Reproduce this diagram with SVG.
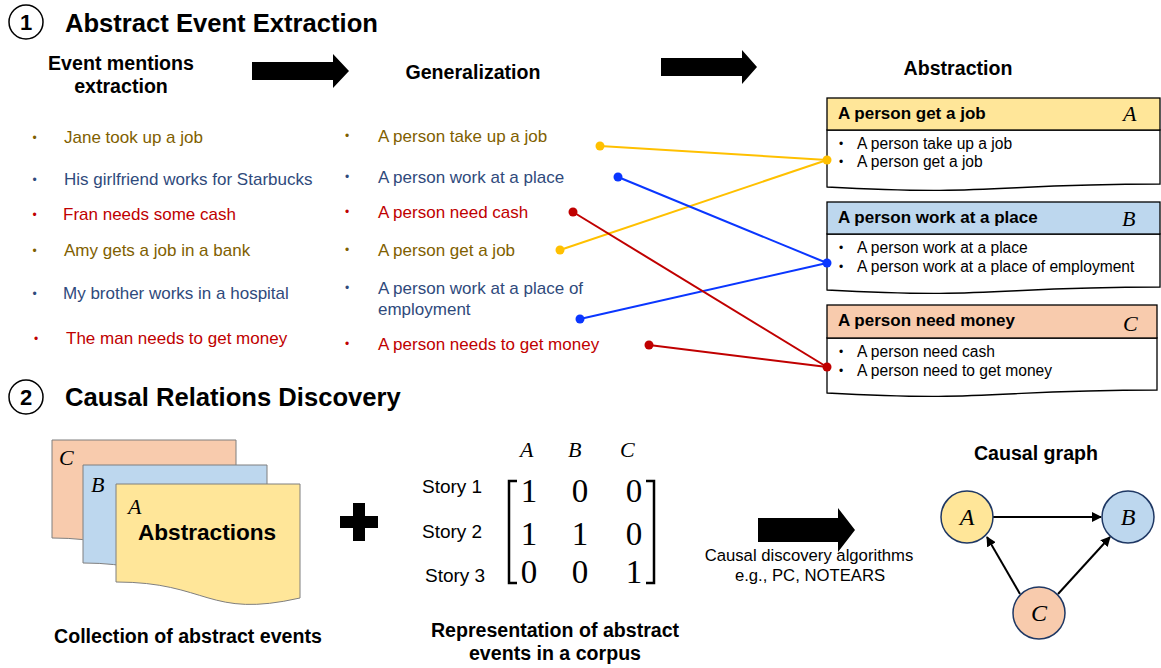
<svg xmlns="http://www.w3.org/2000/svg" width="1161" height="668" viewBox="0 0 1161 668">
<defs>
<style>
.sans{font-family:"Liberation Sans",Arial,Helvetica,sans-serif}
.bold{font-family:"Liberation Sans",Arial,Helvetica,sans-serif;font-weight:bold}
.title{font-family:"Liberation Sans",Arial,sans-serif;font-weight:bold;font-size:25.6px;fill:#000}
.sub{font-family:"Liberation Sans",Arial,sans-serif;font-weight:bold;font-size:19.6px;fill:#000}
.math{font-family:"Liberation Serif","Times New Roman",serif;font-style:italic;fill:#000}
.num{font-family:"Liberation Serif","Times New Roman",serif;font-size:33px;fill:#000}
.item{font-family:"Liberation Sans",Arial,sans-serif;font-size:17px}
.bul{font-family:"Liberation Sans",Arial,sans-serif;font-size:12px}
.olive{fill:#7F6000}
.navy{fill:#2F4A7C}
.red{fill:#C00000}
.boxtext{font-family:"Liberation Sans",Arial,sans-serif;font-size:15.6px;fill:#000}
.hdrtext{font-family:"Liberation Sans",Arial,sans-serif;font-weight:bold;font-size:17px;fill:#000}
.blk{fill:#000}
.frame{stroke:#000;stroke-width:1.3}
.docs{stroke:#7f7f7f;stroke-width:1}
.yel{fill:#FFE699}
.blu{fill:#BDD7EE}
.pch{fill:#F8CBAD}
.cl{fill:none;stroke-width:2}
.gn{stroke:#1F3864;stroke-width:1.5}
.ge{stroke:#000;stroke-width:2;fill:none;marker-end:url(#ah)}
</style>
<marker id="ah" viewBox="0 0 10 10" refX="9" refY="5" markerWidth="5" markerHeight="5" orient="auto" markerUnits="strokeWidth">
<path d="M0,0 L10,5 L0,10 Z" fill="#000"/>
</marker>
</defs>
<rect width="1161" height="668" fill="#fff"/>

<g id="section1-title">
<circle cx="26" cy="22" r="17" fill="none" stroke="#000" stroke-width="1.5"/>
<text x="26" y="30" text-anchor="middle" class="bold" font-size="22">1</text>
<text x="65" y="32" class="title">Abstract Event Extraction</text>
</g>

<g id="stage-labels">
<text x="121" y="70" text-anchor="middle" class="sub">Event mentions</text>
<text x="121" y="93" text-anchor="middle" class="sub">extraction</text>
<text x="473" y="79" text-anchor="middle" class="sub">Generalization</text>
<text x="958" y="75" text-anchor="middle" class="sub">Abstraction</text>
</g>

<g id="stage-arrows">
<polygon class="blk" points="252,62 333,62 333,54 349,71 333,88 333,80 252,80"/>
<polygon class="blk" points="661,58 742,58 742,50 757,67 742,84 742,76 661,76"/>
</g>

<g id="mentions">
<text x="32.5" y="142" class="bul olive">•</text><text x="64" y="143" class="item olive">Jane took up a job</text>
<text x="32.5" y="184" class="bul navy">•</text><text x="64" y="185" class="item navy">His girlfriend works for Starbucks</text>
<text x="32.5" y="219" class="bul red">•</text><text x="63" y="220" class="item red">Fran needs some cash</text>
<text x="32.5" y="255" class="bul olive">•</text><text x="64" y="256" class="item olive">Amy gets a job in a bank</text>
<text x="32.5" y="298" class="bul navy">•</text><text x="63" y="299" class="item navy">My brother works in a hospital</text>
<text x="34" y="343" class="bul red">•</text><text x="66" y="344" class="item red">The man needs to get money</text>
</g>

<g id="generalizations">
<text x="345" y="140" class="bul olive">•</text><text x="378" y="142" class="item olive">A person take up a job</text>
<text x="345" y="181" class="bul navy">•</text><text x="378" y="183" class="item navy">A person work at a place</text>
<text x="345" y="216" class="bul red">•</text><text x="378" y="218" class="item red">A person need cash</text>
<text x="345" y="254" class="bul olive">•</text><text x="378" y="256" class="item olive">A person get a job</text>
<text x="345" y="292" class="bul navy">•</text><text x="378" y="294" class="item navy">A person work at a place of</text>
<text x="378" y="315" class="item navy">employment</text>
<text x="345" y="348" class="bul red">•</text><text x="378" y="350" class="item red">A person needs to get money</text>
</g>

<g id="box-A">
<path class="frame" fill="#fff" d="M827,130 H1160 V184 C994,184 994,196 827,187 Z"/>
<rect class="frame yel" x="827" y="98" width="333" height="32"/>
<text x="838" y="119" class="hdrtext">A person get a job</text>
<text x="1123" y="121" class="math" font-size="22">A</text>
<text x="839" y="148" class="bul">•</text><text x="857" y="149" class="boxtext">A person take up a job</text>
<text x="839" y="166" class="bul">•</text><text x="857" y="167" class="boxtext">A person get a job</text>
</g>

<g id="box-B">
<path class="frame" fill="#fff" d="M827,234 H1160 V287 C994,287 994,299 827,290 Z"/>
<rect class="frame blu" x="827" y="202" width="333" height="32"/>
<text x="838" y="223" class="hdrtext">A person work at a place</text>
<text x="1122" y="226" class="math" font-size="22">B</text>
<text x="839" y="252" class="bul">•</text><text x="857" y="253" class="boxtext">A person work at a place</text>
<text x="839" y="271" class="bul">•</text><text x="857" y="272" class="boxtext">A person work at a place of employment</text>
</g>

<g id="box-C">
<path class="frame" fill="#fff" d="M827,338 H1157 V390 C992,390 992,402 827,393 Z"/>
<rect class="frame pch" x="827" y="305" width="330" height="33"/>
<text x="838" y="326" class="hdrtext">A person need money</text>
<text x="1123" y="331" class="math" font-size="22">C</text>
<text x="839" y="356" class="bul">•</text><text x="857" y="357" class="boxtext">A person need cash</text>
<text x="839" y="375" class="bul">•</text><text x="857" y="376" class="boxtext">A person need to get money</text>
</g>

<g id="connectors">
<line class="cl" stroke="#FFC000" x1="600" y1="146" x2="827" y2="160"/>
<line class="cl" stroke="#FFC000" x1="560" y1="250" x2="827" y2="160"/>
<line class="cl" stroke="#0A36FF" x1="618" y1="177" x2="827" y2="263"/>
<line class="cl" stroke="#0A36FF" x1="580" y1="319" x2="827" y2="263"/>
<line class="cl" stroke="#C00000" x1="573" y1="212" x2="827" y2="367"/>
<line class="cl" stroke="#C00000" x1="649" y1="345" x2="827" y2="367"/>
<circle cx="600" cy="146" r="4.5" fill="#FFC000"/>
<circle cx="560" cy="250" r="4.5" fill="#FFC000"/>
<circle cx="827" cy="160" r="4.5" fill="#FFC000"/>
<circle cx="618" cy="177" r="4.5" fill="#0A36FF"/>
<circle cx="580" cy="319" r="4.5" fill="#0A36FF"/>
<circle cx="827" cy="263" r="4.5" fill="#0A36FF"/>
<circle cx="573" cy="212" r="4.5" fill="#C00000"/>
<circle cx="649" cy="345" r="4.5" fill="#C00000"/>
<circle cx="827" cy="367" r="4.5" fill="#C00000"/>
</g>

<g id="section2-title">
<circle cx="26" cy="397" r="17" fill="none" stroke="#000" stroke-width="1.5"/>
<text x="26" y="405" text-anchor="middle" class="bold" font-size="22">2</text>
<text x="65" y="406" class="title">Causal Relations Discovery</text>
</g>

<g id="abstractions-stack">
<path class="docs pch" d="M52,440 H236 V554 C144,575 144,538 52,538 Z"/>
<text x="59" y="465" class="math" font-size="22">C</text>
<path class="docs blu" d="M83,465 H267 V579 C175,600 175,563 83,563 Z"/>
<text x="91" y="492" class="math" font-size="22">B</text>
<path class="docs yel" d="M116,484 H300 V598 C208,619 208,582 116,582 Z"/>
<text x="128" y="514" class="math" font-size="22">A</text>
<text x="138" y="540" class="bold" font-size="22.6">Abstractions</text>
<text x="188" y="643" text-anchor="middle" class="sub">Collection of abstract events</text>
</g>

<g id="plus">
<rect class="blk" x="340" y="516" width="38" height="12"/>
<rect class="blk" x="353" y="503" width="12" height="38"/>
</g>

<g id="matrix">
<text x="520" y="457" class="math" font-size="22">A</text>
<text x="568" y="457" class="math" font-size="22">B</text>
<text x="620" y="457" class="math" font-size="22">C</text>
<text x="422" y="493" class="sans" font-size="19">Story 1</text>
<text x="422" y="538" class="sans" font-size="19">Story 2</text>
<text x="425" y="582" class="sans" font-size="19">Story 3</text>
<path d="M517,481 H509 V583 H517" fill="none" stroke="#000" stroke-width="2.5"/>
<path d="M646,481 H654 V583 H646" fill="none" stroke="#000" stroke-width="2.5"/>
<text x="529" y="502" text-anchor="middle" class="num">1</text>
<text x="580" y="502" text-anchor="middle" class="num">0</text>
<text x="634" y="502" text-anchor="middle" class="num">0</text>
<text x="529" y="545" text-anchor="middle" class="num">1</text>
<text x="580" y="545" text-anchor="middle" class="num">1</text>
<text x="634" y="545" text-anchor="middle" class="num">0</text>
<text x="529" y="583" text-anchor="middle" class="num">0</text>
<text x="580" y="583" text-anchor="middle" class="num">0</text>
<text x="634" y="583" text-anchor="middle" class="num">1</text>
<text x="555" y="637" text-anchor="middle" class="sub">Representation of abstract</text>
<text x="555" y="660" text-anchor="middle" class="sub">events in a corpus</text>
</g>

<g id="discovery-arrow">
<polygon class="blk" points="758,518 838,518 838,508 855,530 838,552 838,542 758,542"/>
<text x="809" y="561" text-anchor="middle" class="sans" font-size="16.7">Causal discovery algorithms</text>
<text x="810" y="581" text-anchor="middle" class="sans" font-size="16.7">e.g., PC, NOTEARS</text>
</g>

<g id="causal-graph-title">
<text x="1036" y="460" text-anchor="middle" class="sub">Causal graph</text>
</g>

<g id="graph-edges">
<line class="ge" x1="993" y1="517" x2="1101" y2="517"/>
<line class="ge" x1="1020" y1="594" x2="987" y2="537"/>
<line class="ge" x1="1058" y1="594" x2="1110" y2="537"/>
</g>

<g id="node-A">
<circle class="gn yel" cx="967" cy="517" r="26"/>
<text x="967" y="525" text-anchor="middle" class="math" font-size="24">A</text>
</g>
<g id="node-B">
<circle class="gn blu" cx="1128" cy="517" r="26"/>
<text x="1128" y="525" text-anchor="middle" class="math" font-size="24">B</text>
</g>
<g id="node-C">
<circle class="gn pch" cx="1039" cy="613" r="26"/>
<text x="1039" y="621" text-anchor="middle" class="math" font-size="24">C</text>
</g>
</svg>
